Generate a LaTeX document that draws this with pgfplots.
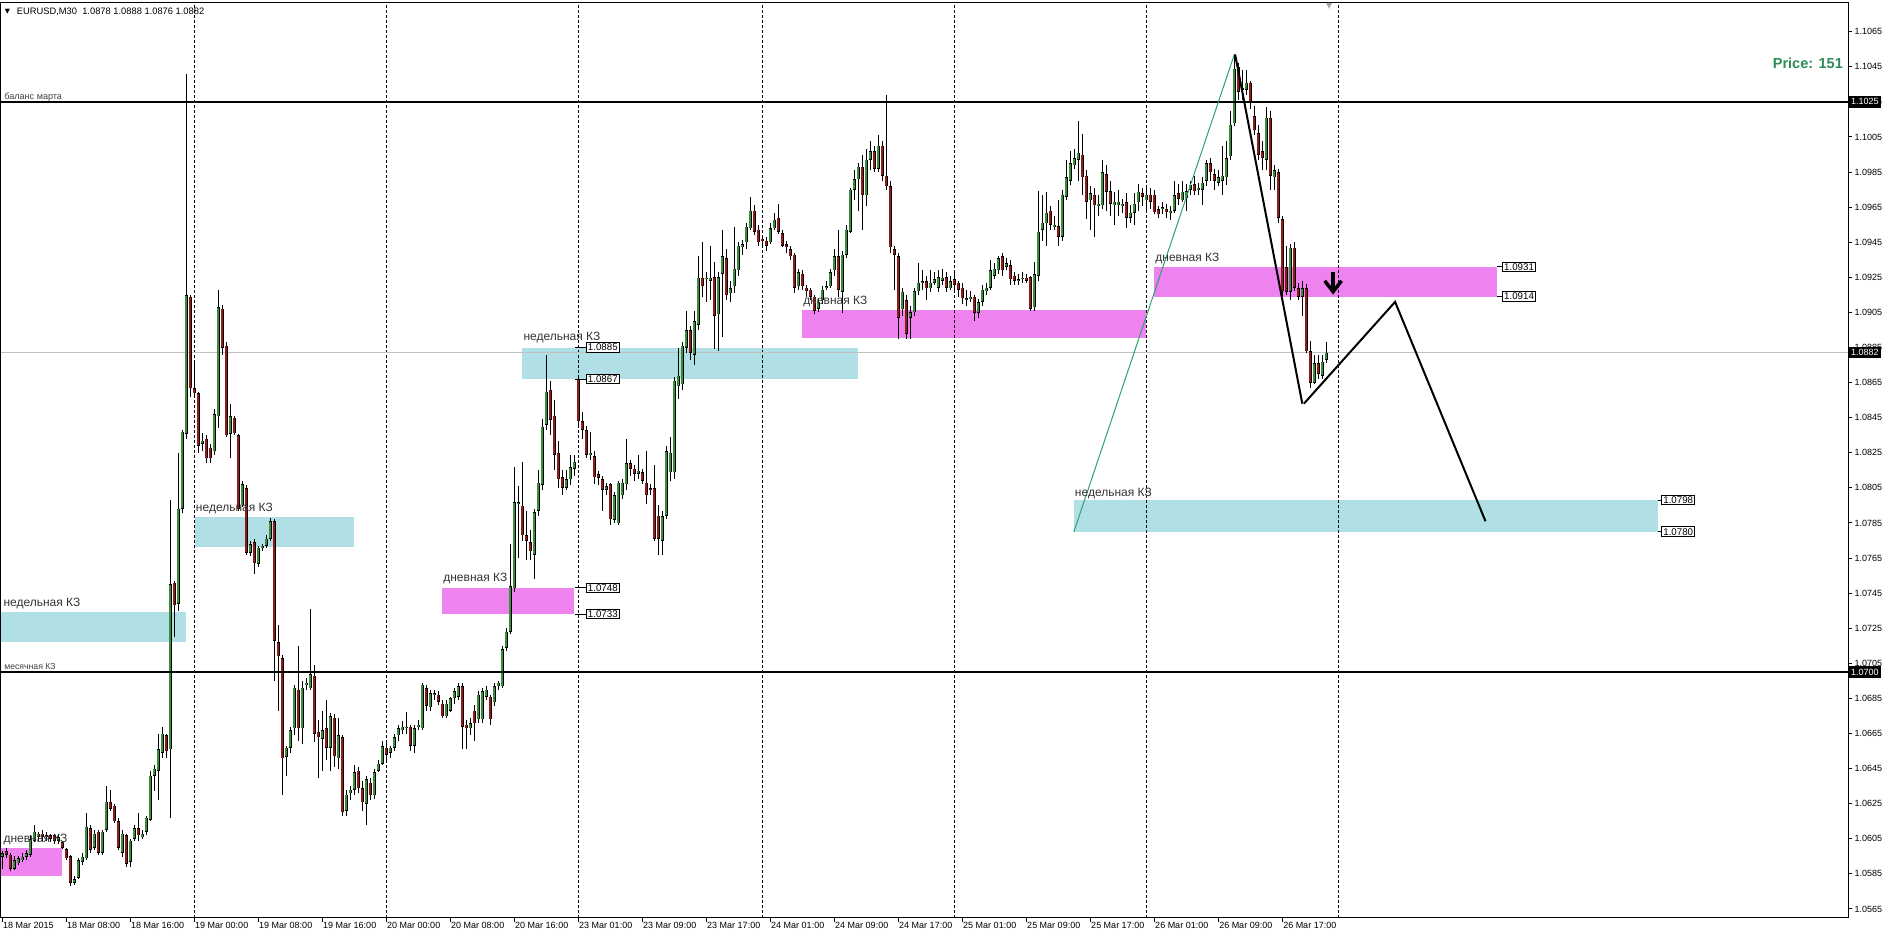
\documentclass[border=0pt]{standalone}
\usepackage{fontspec}
\setmainfont{Liberation Sans}
\newfontfamily\dejavu{DejaVu Sans}
\usepackage{pgfplots}
\pgfplotsset{compat=1.18}
\usepackage{pgfplotstable}

\definecolor{up}{RGB}{56,142,60}
\definecolor{dn}{RGB}{150,24,24}
\definecolor{zpink}{RGB}{238,130,238}
\definecolor{zblue}{RGB}{176,224,230}
\definecolor{trend}{RGB}{46,160,120}
\definecolor{pricegreen}{RGB}{46,139,87}

% EURUSD M30, bar index k from 18 Mar 00:00
\pgfplotstableread{
k o h l c
0 1.0595 1.0598 1.0588 1.0597
1 1.0598 1.0600 1.0594 1.0596
2 1.0596 1.0597 1.0587 1.0588
3 1.0588 1.0595 1.0587 1.0593
4 1.0591 1.0595 1.0590 1.0594
5 1.0593 1.0597 1.0592 1.0595
6 1.0595 1.0599 1.0593 1.0597
7 1.0596 1.0607 1.0595 1.0605
8 1.0604 1.0613 1.0603 1.0609
9 1.0606 1.0609 1.0604 1.0608
10 1.0608 1.0610 1.0604 1.0606
11 1.0606 1.0609 1.0604 1.0607
12 1.0607 1.0608 1.0603 1.0605
13 1.0607 1.0608 1.0602 1.0604
14 1.0604 1.0608 1.0602 1.0606
15 1.0603 1.0604 1.0599 1.0600
16 1.0599 1.0600 1.0593 1.0594
17 1.0595 1.0596 1.0578 1.0580
18 1.0580 1.0584 1.0579 1.0582
19 1.0583 1.0594 1.0582 1.0593
20 1.0592 1.0597 1.0590 1.0595
21 1.0594 1.0620 1.0593 1.0612
22 1.0611 1.0613 1.0597 1.0599
23 1.0600 1.0610 1.0599 1.0608
24 1.0609 1.0610 1.0596 1.0597
25 1.0597 1.0610 1.0596 1.0609
26 1.0610 1.0635 1.0609 1.0626
27 1.0626 1.0633 1.0621 1.0622
28 1.0624 1.0625 1.0614 1.0615
29 1.0615 1.0617 1.0599 1.0600
30 1.0597 1.0610 1.0595 1.0608
31 1.0607 1.0608 1.0589 1.0591
32 1.0592 1.0605 1.0589 1.0604
33 1.0605 1.0613 1.0604 1.0611
34 1.0611 1.0620 1.0604 1.0607
35 1.0606 1.0610 1.0605 1.0608
36 1.0609 1.0618 1.0607 1.0617
37 1.0616 1.0644 1.0615 1.0641
38 1.0641 1.0647 1.0632 1.0645
39 1.0644 1.0665 1.0627 1.0656
40 1.0654 1.0669 1.0651 1.0665
41 1.0664 1.0665 1.0651 1.0655
42 1.0656 1.0798 1.0617 1.0750
43 1.0751 1.0752 1.0720 1.0738
44 1.0739 1.0825 1.0735 1.0793
45 1.0793 1.0838 1.0791 1.0837
46 1.0836 1.1041 1.0833 1.0915
47 1.0914 1.0915 1.0857 1.0862
48 1.0862 1.0876 1.0858 1.0859
49 1.0859 1.0860 1.0825 1.0829
50 1.0830 1.0836 1.0826 1.0832
51 1.0833 1.0835 1.0819 1.0822
52 1.0828 1.0830 1.0819 1.0822
53 1.0826 1.0850 1.0824 1.0847
54 1.0846 1.0918 1.0839 1.0908
55 1.0907 1.0909 1.0881 1.0885
56 1.0886 1.0888 1.0834 1.0835
57 1.0836 1.0853 1.0822 1.0846
58 1.0845 1.0846 1.0835 1.0836
59 1.0835 1.0836 1.0792 1.0793
60 1.0795 1.0809 1.0794 1.0807
61 1.0805 1.0807 1.0767 1.0768
62 1.0768 1.0775 1.0766 1.0773
63 1.0774 1.0776 1.0756 1.0762
64 1.0762 1.0772 1.0760 1.0771
65 1.0771 1.0773 1.0769 1.0772
66 1.0772 1.0778 1.0771 1.0776
67 1.0776 1.0788 1.0775 1.0786
68 1.0786 1.0787 1.0695 1.0718
69 1.0717 1.0727 1.0678 1.0709
70 1.0708 1.0710 1.0630 1.0651
71 1.0652 1.0658 1.0641 1.0657
72 1.0657 1.0669 1.0654 1.0667
73 1.0668 1.0693 1.0664 1.0691
74 1.0690 1.0715 1.0661 1.0668
75 1.0668 1.0695 1.0659 1.0691
76 1.0693 1.0697 1.0690 1.0694
77 1.0691 1.0736 1.0690 1.0699
78 1.0698 1.0704 1.0660 1.0665
79 1.0666 1.0673 1.0640 1.0663
80 1.0662 1.0678 1.0644 1.0667
81 1.0668 1.0684 1.0650 1.0657
82 1.0657 1.0677 1.0644 1.0675
83 1.0674 1.0676 1.0646 1.0652
84 1.0651 1.0674 1.0645 1.0664
85 1.0663 1.0664 1.0618 1.0620
86 1.0621 1.0633 1.0618 1.0630
87 1.0631 1.0635 1.0627 1.0633
88 1.0633 1.0647 1.0630 1.0643
89 1.0644 1.0646 1.0631 1.0634
90 1.0634 1.0638 1.0621 1.0626
91 1.0625 1.0641 1.0613 1.0639
92 1.0637 1.0640 1.0627 1.0630
93 1.0630 1.0645 1.0628 1.0643
94 1.0644 1.0650 1.0643 1.0648
95 1.0648 1.0661 1.0647 1.0658
96 1.0657 1.0661 1.0649 1.0653
97 1.0654 1.0658 1.0651 1.0657
98 1.0657 1.0665 1.0655 1.0663
99 1.0664 1.0670 1.0661 1.0668
100 1.0667 1.0672 1.0665 1.0669
101 1.0668 1.0677 1.0665 1.0669
102 1.0669 1.0670 1.0655 1.0658
103 1.0658 1.0670 1.0654 1.0668
104 1.0669 1.0673 1.0667 1.0670
105 1.0668 1.0694 1.0667 1.0693
106 1.0691 1.0693 1.0678 1.0681
107 1.0680 1.0690 1.0678 1.0688
108 1.0687 1.0690 1.0684 1.0688
109 1.0687 1.0689 1.0681 1.0683
110 1.0682 1.0684 1.0674 1.0675
111 1.0675 1.0684 1.0674 1.0682
112 1.0678 1.0686 1.0677 1.0685
113 1.0685 1.0691 1.0682 1.0689
114 1.0686 1.0694 1.0684 1.0692
115 1.0692 1.0694 1.0656 1.0669
116 1.0670 1.0673 1.0656 1.0668
117 1.0668 1.0674 1.0664 1.0671
118 1.0678 1.0681 1.0661 1.0671
119 1.0673 1.0689 1.0671 1.0687
120 1.0673 1.0691 1.0671 1.0689
121 1.0686 1.0692 1.0684 1.0690
122 1.0686 1.0687 1.0670 1.0673
123 1.0683 1.0694 1.0681 1.0692
124 1.0692 1.0695 1.0690 1.0694
125 1.0692 1.0715 1.0691 1.0713
126 1.0714 1.0725 1.0712 1.0723
127 1.0723 1.0773 1.0722 1.0749
128 1.0748 1.0817 1.0746 1.0797
129 1.0796 1.0806 1.0765 1.0797
130 1.0795 1.0820 1.0775 1.0778
131 1.0778 1.0792 1.0764 1.0775
132 1.0774 1.0781 1.0764 1.0769
133 1.0767 1.0793 1.0753 1.0791
134 1.0792 1.0815 1.0789 1.0808
135 1.0807 1.0844 1.0804 1.0840
136 1.0841 1.0881 1.0838 1.0860
137 1.0861 1.0866 1.0835 1.0844
138 1.0846 1.0855 1.0815 1.0824
139 1.0825 1.0832 1.0805 1.0810
140 1.0811 1.0815 1.0801 1.0805
141 1.0805 1.0815 1.0804 1.0810
142 1.0810 1.0824 1.0807 1.0817
143 1.0816 1.0824 1.0812 1.0820
144 1.0867 1.0868 1.0841 1.0843
145 1.0843 1.0848 1.0833 1.0838
146 1.0838 1.0840 1.0822 1.0824
147 1.0824 1.0837 1.0821 1.0825
148 1.0823 1.0826 1.0807 1.0811
149 1.0813 1.0815 1.0807 1.0811
150 1.0810 1.0812 1.0792 1.0804
151 1.0804 1.0808 1.0801 1.0806
152 1.0807 1.0808 1.0784 1.0787
153 1.0787 1.0803 1.0785 1.0801
154 1.0785 1.0809 1.0784 1.0808
155 1.0801 1.0810 1.0799 1.0808
156 1.0807 1.0833 1.0804 1.0819
157 1.0819 1.0821 1.0812 1.0816
158 1.0816 1.0818 1.0809 1.0813
159 1.0813 1.0824 1.0810 1.0815
160 1.0814 1.0816 1.0807 1.0809
161 1.0808 1.0826 1.0796 1.0801
162 1.0805 1.0807 1.0801 1.0804
163 1.0805 1.0818 1.0775 1.0776
164 1.0789 1.0795 1.0767 1.0776
165 1.0775 1.0792 1.0767 1.0789
166 1.0789 1.0829 1.0787 1.0826
167 1.0814 1.0834 1.0809 1.0825
168 1.0814 1.0868 1.0810 1.0866
169 1.0863 1.0885 1.0856 1.0869
170 1.0864 1.0888 1.0861 1.0886
171 1.0885 1.0906 1.0882 1.0895
172 1.0895 1.0897 1.0878 1.0882
173 1.0881 1.0906 1.0875 1.0900
174 1.0898 1.0937 1.0895 1.0925
175 1.0925 1.0945 1.0914 1.0920
176 1.0924 1.0928 1.0911 1.0925
177 1.0923 1.0943 1.0912 1.0925
178 1.0925 1.0934 1.0884 1.0903
179 1.0904 1.0928 1.0883 1.0925
180 1.0927 1.0952 1.0891 1.0937
181 1.0936 1.0941 1.0912 1.0915
182 1.0916 1.0923 1.0911 1.0919
183 1.0920 1.0954 1.0916 1.0930
184 1.0929 1.0945 1.0926 1.0943
185 1.0942 1.0946 1.0938 1.0944
186 1.0945 1.0956 1.0941 1.0954
187 1.0953 1.0971 1.0952 1.0963
188 1.0963 1.0966 1.0949 1.0951
189 1.0952 1.0955 1.0943 1.0945
190 1.0947 1.0949 1.0943 1.0946
191 1.0946 1.0948 1.0940 1.0943
192 1.0945 1.0956 1.0944 1.0953
193 1.0953 1.0962 1.0952 1.0958
194 1.0959 1.0967 1.0950 1.0951
195 1.0950 1.0952 1.0942 1.0943
196 1.0944 1.0946 1.0939 1.0942
197 1.0941 1.0943 1.0935 1.0937
198 1.0938 1.0939 1.0916 1.0919
199 1.0920 1.0930 1.0918 1.0928
200 1.0927 1.0929 1.0918 1.0920
201 1.0919 1.0921 1.0914 1.0917
202 1.0918 1.0919 1.0912 1.0914
203 1.0914 1.0915 1.0904 1.0906
204 1.0907 1.0913 1.0905 1.0911
205 1.0912 1.0920 1.0910 1.0918
206 1.0919 1.0923 1.0918 1.0920
207 1.0920 1.0930 1.0919 1.0928
208 1.0929 1.0941 1.0926 1.0937
209 1.0937 1.0952 1.0914 1.0918
210 1.0917 1.0940 1.0905 1.0938
211 1.0938 1.0955 1.0936 1.0952
212 1.0951 1.0976 1.0950 1.0975
213 1.0975 1.0986 1.0969 1.0981
214 1.0981 1.0990 1.0963 1.0988
215 1.0988 1.0995 1.0952 1.0972
216 1.0972 1.0998 1.0966 1.0992
217 1.0992 1.1003 1.0986 1.0997
218 1.0997 1.1000 1.0985 1.0987
219 1.0987 1.1006 1.0985 1.1000
220 1.1000 1.1003 1.0980 1.0983
221 1.0983 1.1029 1.0975 1.0977
222 1.0977 1.0980 1.0939 1.0942
223 1.0941 1.0943 1.0918 1.0938
224 1.0937 1.0939 1.0890 1.0902
225 1.0907 1.0919 1.0903 1.0917
226 1.0912 1.0915 1.0890 1.0893
227 1.0902 1.0909 1.0890 1.0905
228 1.0905 1.0919 1.0903 1.0917
229 1.0917 1.0933 1.0915 1.0922
230 1.0922 1.0929 1.0918 1.0923
231 1.0923 1.0926 1.0912 1.0919
232 1.0919 1.0929 1.0917 1.0922
233 1.0922 1.0928 1.0921 1.0924
234 1.0919 1.0929 1.0917 1.0925
235 1.0923 1.0930 1.0921 1.0925
236 1.0925 1.0928 1.0917 1.0919
237 1.0919 1.0926 1.0918 1.0923
238 1.0924 1.0928 1.0918 1.0921
239 1.0922 1.0923 1.0914 1.0918
240 1.0919 1.0922 1.0910 1.0913
241 1.0912 1.0918 1.0909 1.0913
242 1.0913 1.0917 1.0911 1.0914
243 1.0914 1.0915 1.0900 1.0905
244 1.0905 1.0913 1.0902 1.0911
245 1.0911 1.0921 1.0909 1.0918
246 1.0917 1.0922 1.0915 1.0919
247 1.0919 1.0935 1.0918 1.0929
248 1.0926 1.0933 1.0924 1.0930
249 1.0929 1.0937 1.0927 1.0936
250 1.0937 1.0939 1.0926 1.0929
251 1.0931 1.0936 1.0929 1.0933
252 1.0932 1.0935 1.0921 1.0924
253 1.0926 1.0928 1.0921 1.0923
254 1.0923 1.0927 1.0921 1.0924
255 1.0924 1.0928 1.0922 1.0925
256 1.0925 1.0927 1.0922 1.0923
257 1.0925 1.0926 1.0906 1.0907
258 1.0908 1.0934 1.0906 1.0927
259 1.0926 1.0974 1.0923 1.0951
260 1.0952 1.0972 1.0946 1.0956
261 1.0956 1.0974 1.0943 1.0962
262 1.0963 1.0966 1.0952 1.0955
263 1.0954 1.0960 1.0952 1.0955
264 1.0954 1.0969 1.0943 1.0948
265 1.0948 1.0975 1.0946 1.0972
266 1.0971 1.0992 1.0969 1.0982
267 1.0980 1.0997 1.0978 1.0990
268 1.0989 1.0998 1.0987 1.0993
269 1.0992 1.1014 1.0980 1.0996
270 1.0995 1.1007 1.0972 1.0982
271 1.0983 1.0986 1.0958 1.0968
272 1.0969 1.0977 1.0952 1.0973
273 1.0972 1.0976 1.0948 1.0966
274 1.0966 1.0972 1.0960 1.0967
275 1.0966 1.0992 1.0964 1.0985
276 1.0984 1.0989 1.0963 1.0974
277 1.0974 1.0980 1.0960 1.0967
278 1.0966 1.0974 1.0955 1.0968
279 1.0966 1.0975 1.0960 1.0968
280 1.0966 1.0970 1.0962 1.0967
281 1.0968 1.0973 1.0953 1.0959
282 1.0959 1.0966 1.0956 1.0962
283 1.0962 1.0973 1.0955 1.0967
284 1.0968 1.0978 1.0963 1.0974
285 1.0973 1.0976 1.0966 1.0971
286 1.0969 1.0977 1.0963 1.0972
287 1.0972 1.0976 1.0964 1.0968
288 1.0972 1.0975 1.0961 1.0962
289 1.0964 1.0966 1.0959 1.0961
290 1.0964 1.0968 1.0961 1.0965
291 1.0964 1.0967 1.0959 1.0962
292 1.0962 1.0966 1.0958 1.0963
293 1.0963 1.0980 1.0962 1.0972
294 1.0973 1.0978 1.0966 1.0970
295 1.0969 1.0980 1.0968 1.0974
296 1.0970 1.0978 1.0963 1.0974
297 1.0975 1.0980 1.0972 1.0978
298 1.0978 1.0983 1.0972 1.0974
299 1.0975 1.0979 1.0972 1.0976
300 1.0975 1.0982 1.0966 1.0979
301 1.0980 1.0992 1.0977 1.0990
302 1.0990 1.0993 1.0980 1.0985
303 1.0984 1.0987 1.0975 1.0980
304 1.0979 1.0986 1.0977 1.0982
305 1.0980 1.1000 1.0972 1.0983
306 1.0982 1.1003 1.0978 1.0993
307 1.0994 1.1020 1.0992 1.1012
308 1.1013 1.1052 1.1011 1.1044
309 1.1045 1.1047 1.1026 1.1031
310 1.1032 1.1043 1.1026 1.1033
311 1.1032 1.1043 1.1029 1.1036
312 1.1036 1.1037 1.1021 1.1025
313 1.1017 1.1023 1.1006 1.1009
314 1.1007 1.1012 1.0992 1.0995
315 1.0997 1.1003 1.0986 1.0993
316 1.0992 1.1022 1.0986 1.1016
317 1.1016 1.1020 1.0975 1.0983
318 1.0982 1.0989 1.0975 1.0986
319 1.0985 1.0987 1.0956 1.0959
320 1.0958 1.0960 1.0912 1.0917
321 1.0931 1.0943 1.0915 1.0917
322 1.0917 1.0944 1.0912 1.0942
323 1.0942 1.0945 1.0917 1.0919
324 1.0919 1.0922 1.0912 1.0914
325 1.0914 1.0923 1.0903 1.0919
326 1.0919 1.0921 1.0882 1.0883
327 1.0883 1.0889 1.0862 1.0865
328 1.0865 1.0881 1.0864 1.0876
329 1.0876 1.0881 1.0867 1.0870
330 1.0869 1.0881 1.0867 1.0877
331 1.0878 1.0888 1.0876 1.0882
}\bars

\pgfplotsset{
  candle/.style={draw=none, no markers, forget plot,
    error bars/.cd, y dir=both, y explicit, error mark=none},
}

\begin{document}
\begin{tikzpicture}
\begin{axis}[
  scale only axis, width=1385.25pt, height=686.25pt,
  xmin=-0.325, xmax=461.425, ymin=1.0559871, ymax=1.1081357,
  clip=false,
  axis line style={line width=0.75pt, black},
  tick align=outside, major tick length=3.2pt,
  tick style={black, line width=0.75pt},
  xtick pos=bottom, ytick pos=right, yticklabel pos=right,
  ytick={1.0565,1.0585,...,1.1065},
  scaled y ticks=false,
  yticklabel style={font=\fontsize{6.75}{8}\selectfont, anchor=west, inner sep=0pt, xshift=1.6pt,
    /pgf/number format/.cd, fixed, fixed zerofill, precision=4, assume math mode=true},
  xtick={0,16,...,320},
  xticklabels={18 Mar 2015,18 Mar 08:00,18 Mar 16:00,19 Mar 00:00,19 Mar 08:00,19 Mar 16:00,
    20 Mar 00:00,20 Mar 08:00,20 Mar 16:00,23 Mar 01:00,23 Mar 09:00,23 Mar 17:00,
    24 Mar 01:00,24 Mar 09:00,24 Mar 17:00,25 Mar 01:00,25 Mar 09:00,25 Mar 17:00,
    26 Mar 01:00,26 Mar 09:00,26 Mar 17:00},
  xticklabel style={font=\fontsize{6.75}{8}\selectfont, anchor=north west, inner sep=0pt, xshift=0.5pt},
  unbounded coords=jump,
  after end axis/.code={
    \node[fill=black, text=white, anchor=west, inner sep=0pt, minimum width=24.75pt, minimum height=8.5pt,
      font=\fontsize{6.75}{8}\selectfont] at (axis cs:461.425,1.1025) {1.1025};
    \node[fill=black, text=white, anchor=west, inner sep=0pt, minimum width=24.75pt, minimum height=8.5pt,
      font=\fontsize{6.75}{8}\selectfont] at (axis cs:461.425,1.0882) {1.0882};
    \node[fill=black, text=white, anchor=west, inner sep=0pt, minimum width=24.75pt, minimum height=8.5pt,
      font=\fontsize{6.75}{8}\selectfont] at (axis cs:461.425,1.0700) {1.0700};
  },
]
\coordinate (bl) at (rel axis cs:0,0);
\coordinate (tr) at (rel axis cs:1,1);

% zones
\addplot[fill=zblue, draw=none, forget plot] coordinates {(-0.325,1.0717) (45.85,1.0717) (45.85,1.0734) (-0.325,1.0734)} -- cycle;
\addplot[fill=zblue, draw=none, forget plot] coordinates {(48.2,1.07715) (87.9,1.07715) (87.9,1.07882) (48.2,1.07882)} -- cycle;
\addplot[fill=zpink, draw=none, forget plot] coordinates {(-0.325,1.05838) (14.9,1.05838) (14.9,1.05999) (-0.325,1.05999)} -- cycle;
\addplot[fill=zpink, draw=none, forget plot] coordinates {(109.85,1.0733) (142.9,1.0733) (142.9,1.0748) (109.85,1.0748)} -- cycle;
\addplot[fill=zblue, draw=none, forget plot] coordinates {(129.9,1.0867) (213.9,1.0867) (213.9,1.0885) (129.9,1.0885)} -- cycle;
\addplot[fill=zpink, draw=none, forget plot] coordinates {(199.9,1.08907) (285.9,1.08907) (285.9,1.09062) (199.9,1.09062)} -- cycle;
\addplot[fill=zpink, draw=none, forget plot] coordinates {(287.9,1.0914) (373.7,1.0914) (373.7,1.0931) (287.9,1.0931)} -- cycle;
\addplot[fill=zblue, draw=none, forget plot] coordinates {(267.8,1.0780) (413.85,1.0780) (413.85,1.0798) (267.8,1.0798)} -- cycle;

% day separators and current price line
\addplot[black, line width=0.75pt, dash pattern=on 2.25pt off 1.5pt, forget plot] coordinates {
  (48,1.0559871) (48,1.1081357) (48,nan)
  (96,1.0559871) (96,1.1081357) (96,nan)
  (144,1.0559871) (144,1.1081357) (144,nan)
  (190,1.0559871) (190,1.1081357) (190,nan)
  (238,1.0559871) (238,1.1081357) (238,nan)
  (286,1.0559871) (286,1.1081357) (286,nan)
  (334,1.0559871) (334,1.1081357)};
\addplot[color={rgb,255:red,192;green,192;blue,192}, line width=0.75pt, forget plot] coordinates {(-0.325,1.0882) (461.425,1.0882)};

% candles: wicks, body outline, body fill
\addplot[candle, error bar style={draw=black, line width=0.75pt, line cap=butt}]
  table[x=k, y expr={(\thisrow{h}+\thisrow{l})/2}, y error expr={(\thisrow{h}-\thisrow{l})/2}] {\bars};
\addplot[candle, error bar style={draw=black, line width=2.4pt, line cap=butt}]
  table[x=k, y expr={(\thisrow{o}+\thisrow{c})/2}, y error expr={max(abs(\thisrow{c}-\thisrow{o})/2,0.00003)}] {\bars};
\addplot[restrict expr to domain={\thisrow{c}-\thisrow{o}}{0.00005:1}, candle, error bar style={draw=up, line width=1.35pt, line cap=butt}]
  table[x=k, y expr={(\thisrow{o}+\thisrow{c})/2}, y error expr={abs(\thisrow{c}-\thisrow{o})/2-0.00003}] {\bars};
\addplot[restrict expr to domain={\thisrow{o}-\thisrow{c}}{0.00005:1}, candle, error bar style={draw=dn, line width=1.35pt, line cap=butt}]
  table[x=k, y expr={(\thisrow{o}+\thisrow{c})/2}, y error expr={abs(\thisrow{c}-\thisrow{o})/2-0.00003}] {\bars};

% horizontal levels
\addplot[black, line width=1.5pt, forget plot] coordinates {(-0.325,1.1025) (461.425,1.1025)};
\addplot[black, line width=1.5pt, forget plot] coordinates {(-0.325,1.0700) (461.425,1.0700)};

% trend line and projected path
\addplot[trend, line width=0.75pt, forget plot] coordinates {(267.9,1.0780) (308.0,1.1052)};
\addplot[black, line width=1.5pt, forget plot] coordinates {(308.2,1.1052) (325.0,1.0853)};
\addplot[black, line width=1.5pt, forget plot] coordinates {(325.4,1.0853) (348.2,1.0911) (370.8,1.0786)};
% arrow
\addplot[black, line width=2.6pt, forget plot] coordinates {(332.7,1.09280) (332.7,1.09180)};
\addplot[black, line width=2.6pt, line join=miter, forget plot] coordinates {(330.6,1.09230) (332.7,1.09168) (334.8,1.09230)};

% price labels of the zones
\foreach \k/\p/\lx in {145.85/1.0748/143.2, 145.85/1.0733/143.2, 145.85/1.0885/143.2, 145.85/1.0867/143.2,
                      374.9/1.0931/373.7, 374.9/1.0914/373.7, 414.7/1.0798/413.85, 414.7/1.0780/413.85}{
  \edef\tmp{\noexpand\draw[black, line width=0.75pt] (axis cs:\lx,\p) -- (axis cs:\k,\p);}\tmp
  \edef\tmp{\noexpand\node[draw=black, fill=white, line width=0.75pt, anchor=west, inner xsep=1.3pt, inner ysep=1pt,
    font=\noexpand\fontsize{7.3}{8}\noexpand\selectfont] at (axis cs:\k,\p) {\p};}\tmp
}

% zone captions
\node[anchor=base west, inner sep=0pt, font=\fontsize{9}{10}\selectfont, text=black!80] at (axis cs:0.25,1.07372) {недельная КЗ};
\node[anchor=base west, inner sep=0pt, font=\fontsize{9}{10}\selectfont, text=black!80] at (axis cs:48.35,1.07913) {недельная КЗ};
\node[anchor=base west, inner sep=0pt, font=\fontsize{9}{10}\selectfont, text=black!80] at (axis cs:0.25,1.06027) {дневная КЗ};
\node[anchor=base west, inner sep=0pt, font=\fontsize{9}{10}\selectfont, text=black!80] at (axis cs:110.2,1.07518) {дневная КЗ};
\node[anchor=base west, inner sep=0pt, font=\fontsize{9}{10}\selectfont, text=black!80] at (axis cs:130.25,1.08892) {недельная КЗ};
\node[anchor=base west, inner sep=0pt, font=\fontsize{9}{10}\selectfont, text=black!80] at (axis cs:200.2,1.09097) {дневная КЗ};
\node[anchor=base west, inner sep=0pt, font=\fontsize{9}{10}\selectfont, text=black!80] at (axis cs:288.2,1.09338) {дневная КЗ};
\node[anchor=base west, inner sep=0pt, font=\fontsize{9}{10}\selectfont, text=black!80] at (axis cs:268.1,1.08001) {недельная КЗ};
\node[anchor=base west, inner sep=0pt, font=\fontsize{6.8}{8}\selectfont, text=black!75] at (axis cs:0.45,1.10266) {баланс марта};
\node[anchor=base west, inner sep=0pt, font=\fontsize{6.5}{8}\selectfont, text=black!75] at (axis cs:0.45,1.07017) {месячная КЗ};

% header and info
\node[anchor=west, inner sep=0pt, font=\dejavu\fontsize{5}{6}\selectfont] at (axis cs:0.6,1.10762) {▼};
\node[anchor=west, inner sep=0pt, font=\fontsize{7}{8}\selectfont] at (axis cs:3.6,1.10762) {EURUSD,M30\ \ 1.0878 1.0888 1.0876 1.0882};
\node[anchor=east, inner sep=0pt, font=\bfseries\fontsize{10.9}{12}\selectfont, text=pricegreen] at (axis cs:460.2,1.10471) {Price: 151};
\node[anchor=north, inner sep=0pt, font=\dejavu\fontsize{6}{7}\selectfont, text=black!35] at (axis cs:331.7,1.1081357) {▼};
\end{axis}
\pgfresetboundingbox
\path[use as bounding box] ([shift={(-0.75pt,-16.5pt)}]bl) rectangle ([shift={(30.75pt,2.25pt)}]tr);
\end{tikzpicture}
\end{document}
